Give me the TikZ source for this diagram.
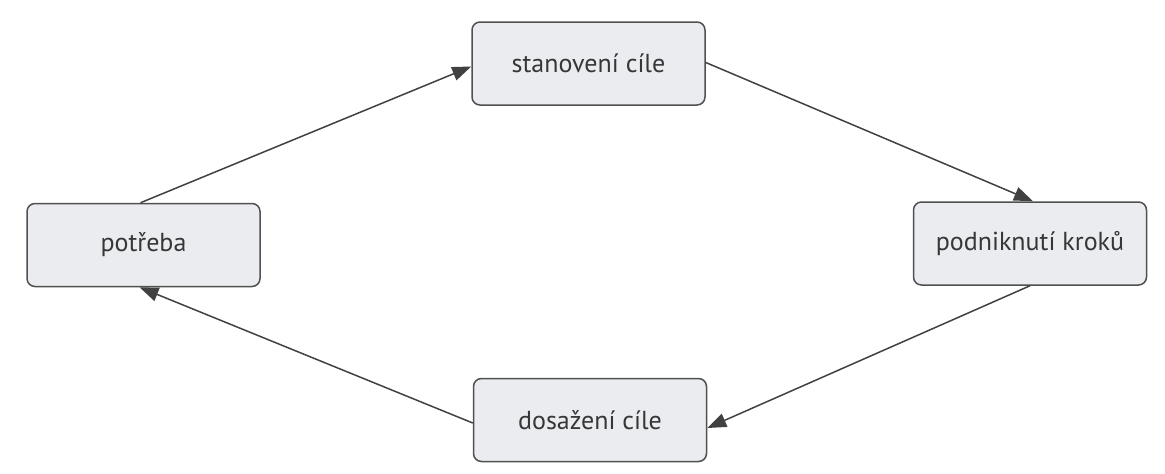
\documentclass[tikz,border=0pt]{standalone}
\usepackage{fontspec}
\setmainfont{PT Sans}
\usetikzlibrary{arrows.meta,calc}
\definecolor{boxfill}{RGB}{234,236,239}
\definecolor{boxdraw}{RGB}{80,80,80}
\definecolor{txt}{RGB}{55,55,55}
\definecolor{arr}{RGB}{65,65,65}
\tikzset{
  box/.style={draw=boxdraw, fill=boxfill, line width=1.5pt, rounded corners=8pt,
    minimum width=233pt, minimum height=83pt, inner sep=0pt,
    font=\fontsize{26}{30}\selectfont, text=txt},
  conn/.style={draw=arr, line width=1.5pt, -{Triangle[length=19pt,width=14pt]}}
}
\begin{document}
\begin{tikzpicture}[x=1pt,y=-1pt]
\useasboundingbox (0,0) rectangle (1165,474);
\node[box] (s) at (588.5,63.5) {stanovení cíle};
\node[box] (p) at (143.5,245) {potřeba};
\node[box] (k) at (1030,243.5) {podniknutí kroků};
\node[box] (d) at (590,420) {dosažení cíle};
\draw[conn] ($(p.north)+(-3,0)$) -- ($(s.west)+(0,3)$);
\draw[conn] ($(s.east)+(0,-1)$) -- ($(k.north)+(3,0)$);
\draw[conn] (k.south) -- ($(d.east)+(0,8)$);
\draw[conn] ($(d.west)+(0,3)$) -- ($(p.south)+(-4,0)$);
\end{tikzpicture}
\end{document}
